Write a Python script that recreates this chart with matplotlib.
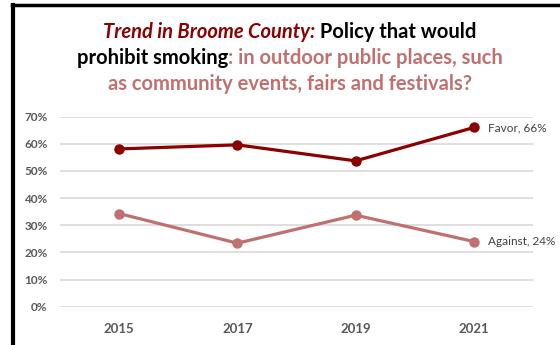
import matplotlib
matplotlib.use("Agg")
import matplotlib.pyplot as plt
from matplotlib.lines import Line2D
from matplotlib.ticker import PercentFormatter

years = ["2015", "2017", "2019", "2021"]
favor = [0.581, 0.596, 0.537, 0.66]
against = [0.343, 0.234, 0.337, 0.24]

dark_red = "#8B0000"
pink = "#C07070"
tick_grey = "#595959"

plt.rcParams["font.family"] = ["Lato", "DejaVu Sans"]

fig = plt.figure(figsize=(5.6, 3.45), dpi=100)
ax = fig.add_axes([0.107, 0.111, 0.845, 0.551])

x = range(len(years))
ax.plot(x, favor, color=dark_red, lw=2.3, marker="o", ms=6.5, zorder=3)
ax.plot(x, against, color=pink, lw=2.3, marker="o", ms=6.5, zorder=3)

ax.annotate("Favor, 66%", (3, favor[-1]), xytext=(10, 0), textcoords="offset points",
            va="center", ha="left", fontsize=8.5, color="#404040", annotation_clip=False)
ax.annotate("Against, 24%", (3, against[-1]), xytext=(10, 0), textcoords="offset points",
            va="center", ha="left", fontsize=8.5, color="#404040", annotation_clip=False)

ax.set_xlim(-0.5, 3.5)
ax.set_ylim(0, 0.7)
ax.set_yticks([i / 10 for i in range(8)])
ax.yaxis.set_major_formatter(PercentFormatter(1.0, decimals=0))
ax.set_xticks(list(x))
ax.set_xticklabels(years)
ax.grid(axis="y", color="#D9D9D9", lw=1.2)
ax.set_axisbelow(True)
for s in ax.spines.values():
    s.set_visible(False)
ax.tick_params(length=0, colors=tick_grey, labelsize=8.5)
ax.tick_params(axis="y", pad=9)
ax.tick_params(axis="x", pad=12, labelsize=9.5)
for lbl in ax.get_xticklabels() + ax.get_yticklabels():
    lbl.set_fontweight("bold")

# title: three lines built from coloured pieces
title_lines = [
    [("Trend in Broome County:", dark_red, "italic"), (" Policy that would", "black", "normal")],
    [("prohibit smoking", "black", "normal"), (": in outdoor public places, such", pink, "normal")],
    [("as community events, fairs and festivals?", pink, "normal")],
]
line_y = [0.908, 0.833, 0.757]
renderer = fig.canvas.get_renderer()
W = fig.bbox.width
for pieces, y in zip(title_lines, line_y):
    texts = []
    for s, c, st in pieces:
        t = fig.text(0, y, s, color=c, style=st, fontweight="bold", fontsize=14.5,
                     va="center", ha="left")
        texts.append(t)
    widths = [t.get_window_extent(renderer).width for t in texts]
    x0 = 290 - sum(widths) / 2
    for t, w in zip(texts, widths):
        t.set_x(x0 / W)
        x0 += w

# frame lines on left and top
fig.add_artist(Line2D([13 / 560, 13 / 560], [0, 1 - 4.5 / 345], color="black", lw=3))
fig.add_artist(Line2D([11.5 / 560, 1], [1 - 4.5 / 345, 1 - 4.5 / 345], color="black", lw=2.5))

fig.savefig("out.png", dpi=100)
